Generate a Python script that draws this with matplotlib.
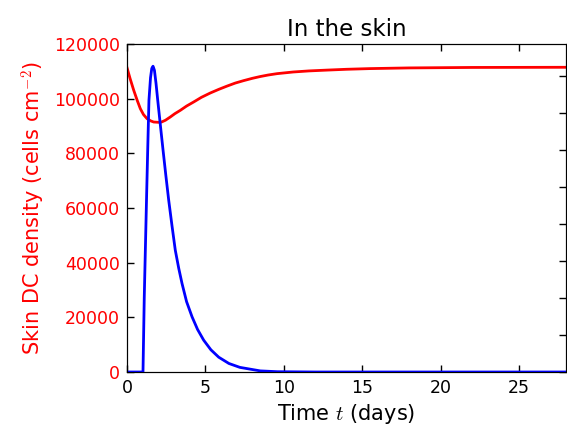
import matplotlib
matplotlib.use("Agg")
import matplotlib.pyplot as plt

plt.rcParams['mathtext.fontset'] = 'cm'
plt.rcParams['font.family'] = ['DejaVu Sans']

# Red: skin DC density (left axis)
t_red = [0, 0.2, 0.43, 0.65, 0.85, 1.05, 1.28, 1.50, 1.70, 2.0, 2.2, 2.45, 2.76, 3.05,
         3.40, 3.8, 4.25, 4.75, 5.31, 5.85, 6.38, 6.9, 7.44, 8.0, 8.5, 9.0, 9.57,
         10.6, 11.6, 12.75, 14, 15.5, 18, 22, 28]
dc_skin = [111340, 107300, 103050, 99400, 96340, 94200, 92680, 91900, 91460, 91350,
           91450, 92100, 93290, 94500, 95730, 97300, 98780, 100500, 102070, 103400,
           104600, 105700, 106600, 107450, 108100, 108650, 109150, 109760, 110150,
           110450, 110750, 111000, 111250, 111420, 111480]

# Blue: second quantity (right axis, labels off-figure)
t_blue = [0, 1.02, 1.06, 1.10, 1.17, 1.25, 1.32, 1.40, 1.50, 1.58, 1.66, 1.75, 1.85,
          1.96, 2.13, 2.30, 2.48, 2.66, 2.87, 3.08, 3.30, 3.51, 3.80, 4.15, 4.50,
          4.89, 5.35, 5.85, 6.50, 7.2, 8.5, 9.6, 12, 28]
blue_vals = [0, 0, 1.0, 2.0, 3.29, 4.75, 5.99, 7.34, 7.95, 8.2, 8.26, 8.15, 7.8,
             7.34, 6.66, 5.99, 5.30, 4.64, 3.95, 3.29, 2.80, 2.39, 1.90, 1.49, 1.15,
             0.86, 0.60, 0.40, 0.23, 0.125, 0.03, 0.008, 0.0, 0.0]

x_ticks = [0, 5, 10, 15, 20, 25]
y_ticks = [0, 20000, 40000, 60000, 80000, 100000, 120000]
y2_ticks = [0, 1, 2, 3, 4, 5, 6, 7, 8]

fig = plt.figure(figsize=(5.67, 4.32), dpi=100)
ax = fig.add_axes([127/567, (432-372)/432, (566-127)/567, (372-44)/432])
ax.plot(t_red, dc_skin, color='red', lw=2)
ax.set_xlim(0, 28)
ax.set_ylim(0, 120000)
ax.set_xticks(x_ticks)
ax.set_yticks(y_ticks)
ax.tick_params(direction='in', length=5, width=1, top=True, labelsize=12.5, pad=5)
ax.tick_params(axis='y', labelcolor='red', right=False)
ax.set_ylabel('Skin DC density (cells cm$^{-2}$)', color='red', fontsize=15)
ax.set_xlabel('Time $t$ (days)', fontsize=15)
ax.set_title('In the skin', fontsize=16.5)

ax2 = ax.twinx()
ax2.plot(t_blue, blue_vals, color='blue', lw=2)
ax2.set_ylim(0, 8.86)
ax2.set_yticks(y2_ticks)
ax2.tick_params(direction='in', length=5, width=1, labelright=False)
ax2.set_xlim(0, 28)

fig.savefig('out.png', dpi=100)
